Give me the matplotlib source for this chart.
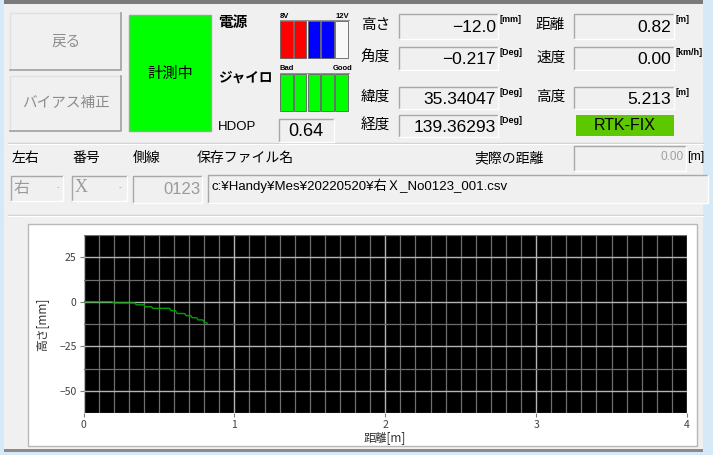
import matplotlib
matplotlib.use("Agg")
import matplotlib.pyplot as plt
from matplotlib.patches import Rectangle
from matplotlib.ticker import MultipleLocator

# ── データ ─────────────────────────────────────────────
distance_m = [0.00, 0.19, 0.20, 0.34, 0.35, 0.40, 0.41, 0.45, 0.46, 0.57, 0.58,
              0.61, 0.62, 0.67, 0.68, 0.71, 0.72, 0.75, 0.76, 0.79, 0.80, 0.82]
height_mm = [0.0, 0.0, -0.7, -0.7, -1.7, -1.7, -2.8, -2.8, -3.7, -3.7, -5.0,
             -5.0, -6.6, -6.6, -7.8, -7.8, -9.0, -9.0, -10.2, -10.2, -11.5, -12.0]

x_ticks = [0, 1, 2, 3, 4]
y_ticks = [25, 0, -25, -50]

power_bars = ["#FF0000", "#FF0000", "#0000FF", "#0000FF", "#F8F8F8"]
gyro_bars = ["#00FF00", "#00FF00", "#00FF00", "#00FF00", "#00FF00"]

left_labels = ["高さ", "角度", "緯度", "経度"]
left_values = ["\u221212.0", "\u22120.217", "35.34047", "139.36293"]
left_units = ["[mm]", "[Deg]", "[Deg]", "[Deg]"]
right_labels = ["距離", "速度", "高度"]
right_values = ["0.82", "0.00", "5.213"]
right_units = ["[m]", "[km/h]", "[m]"]

hdop = "0.64"
fix_status = "RTK-FIX"
file_path = "c:¥Handy¥Mes¥20220520¥右Ｘ_No0123_001.csv"

JP = ["Noto Sans CJK JP", "DejaVu Sans"]
NUM = ["Liberation Sans", "Noto Sans CJK JP"]
BG = "#F0F0F0"

fig = plt.figure(figsize=(7.13, 4.55), dpi=100, facecolor="#D6E9F6")
ui = fig.add_axes([0, 0, 1, 1])
ui.set_xlim(0, 713)
ui.set_ylim(455, 0)
ui.axis("off")


def rect(x0, y0, x1, y1, fc, ec="none", lw=1.0, z=1):
    ui.add_patch(Rectangle((x0, y0), x1 - x0, y1 - y0, facecolor=fc,
                           edgecolor=ec, linewidth=lw, zorder=z))


def sunken(x0, y0, x1, y1, fc=BG):
    rect(x0, y0, x1, y1, fc, z=2)
    ui.plot([x0, x0, x1], [y1, y0, y0], color="#A8A8A8", lw=1.0, zorder=3)
    ui.plot([x0, x1, x1], [y1, y1, y0], color="#FFFFFF", lw=1.0, zorder=3)


def raised(x0, y0, x1, y1):
    rect(x0, y0, x1, y1, BG, z=2)
    ui.plot([x0, x0, x1], [y1, y0, y0], color="#E0E0E0", lw=1.0, zorder=3)
    ui.plot([x0, x1, x1], [y1, y1, y0], color="#A0A0A0", lw=1.2, zorder=3)


# 背景
rect(4, 3, 703, 451, BG, z=0)
rect(4, 0, 703, 4, "#7A7A7A", z=1)
rect(4, 449, 703, 452, "#8A8A8A", z=1)
for yy in (143, 215):
    ui.plot([8, 703], [yy, yy], color="#D2D2D2", lw=1.0, zorder=1)
    ui.plot([8, 703], [yy + 1, yy + 1], color="#FFFFFF", lw=0.8, zorder=1)

# ボタン
raised(10, 13, 121, 70)
raised(10, 76, 121, 131)
ui.text(66, 42, "戻る", family=JP, fontsize=10.5, color="#8C8C8C",
        ha="center", va="center", zorder=4)
ui.text(66, 103, "バイアス補正", family=JP, fontsize=10.5, color="#8C8C8C",
        ha="center", va="center", zorder=4)

rect(129, 15, 211, 131, "#00FF00", ec="#A0A0A0", lw=1.0, z=2)
ui.text(170, 73, "計測中", family=JP, fontsize=11, color="black",
        ha="center", va="center", zorder=4)

# 電源 / ジャイロ / HDOP
ui.text(218, 22, "電源", family=JP, fontsize=10.5, fontweight="bold",
        ha="left", va="center")
ui.text(218, 78, "ジャイロ", family=JP, fontsize=9.8, fontweight="bold",
        ha="left", va="center")
ui.text(218, 127, "HDOP", family=NUM, fontsize=9.5,
        ha="left", va="center")

bar_w = 12.5
for i, c in enumerate(power_bars):
    x0 = 280 + i * 13.8
    rect(x0, 20.5, x0 + bar_w, 57.5, c, ec="#606060", lw=0.6, z=2)
for i, c in enumerate(gyro_bars):
    x0 = 280 + i * 13.8
    rect(x0, 73.5, x0 + bar_w, 111, c, ec="#606060", lw=0.6, z=2)
ui.plot([280, 349], [19.5, 19.5], color="#808080", lw=0.6, zorder=3)
ui.plot([280, 349], [72.5, 72.5], color="#808080", lw=0.6, zorder=3)
ui.text(280, 16, "8V", family=NUM, fontsize=5.5, fontweight="bold",
        ha="left", va="center")
ui.text(349, 16, "12V", family=NUM, fontsize=5.5, fontweight="bold",
        ha="right", va="center")
ui.text(280, 69, "Bad", family=NUM, fontsize=5.5, fontweight="bold",
        ha="left", va="center")
good = ui.text(333, 69, "Good", family=NUM, fontsize=5.5, fontweight="bold",
               ha="left", va="center")
clip = Rectangle((270, 60), 79, 20, transform=ui.transData, visible=False)
ui.add_patch(clip)
good.set_clip_path(clip)

sunken(279, 119, 334, 142)
ui.text(306, 131, hdop, family=NUM, fontsize=13, ha="center", va="center",
        zorder=4)

# 計測値
rows = [(14, 39), (47, 70), (87, 109), (115, 137)]
for (y0, y1), lab, val, unit in zip(rows, left_labels, left_values, left_units):
    ui.text(361, (y0 + y1) / 2 - 1, lab, family=JP, fontsize=10.5,
            ha="left", va="center")
    sunken(399, y0, 498, y1)
    ui.text(496, (y0 + y1) / 2 + 1, val, family=NUM, fontsize=12.5,
            ha="right", va="center", zorder=4)
    ui.text(500, y0 + 1, unit, family=NUM, fontsize=6.5, fontweight="bold",
            ha="left", va="top", zorder=4)
for (y0, y1), lab, val, unit in zip(rows[:3], right_labels, right_values,
                                    right_units):
    ui.text(536, (y0 + y1) / 2 - 1, lab, family=JP, fontsize=10.5,
            ha="left", va="center")
    sunken(574, y0, 674, y1)
    ui.text(671, (y0 + y1) / 2 + 1, val, family=NUM, fontsize=12.5,
            ha="right", va="center", zorder=4)
    ui.text(676, y0 + 1, unit, family=NUM, fontsize=6.5, fontweight="bold",
            ha="left", va="top", zorder=4)

rect(576, 115, 674, 136, "#5DC800", z=2)
ui.text(625, 126, fix_status, family=NUM, fontsize=11.5, ha="center",
        va="center", zorder=4)

# ファイル情報
for x, lab in [(12, "左右"), (72, "番号"), (133, "側線"),
               (197, "保存ファイル名"), (474, "実際の距離")]:
    ui.text(x, 158, lab, family=JP, fontsize=10, ha="left", va="center")
sunken(574, 146, 686, 171)
ui.text(684, 157, "0.00", family=NUM, fontsize=8.5, color="#A0A0A0",
        ha="right", va="center", zorder=4)
ui.text(687, 157, "[m]", family=NUM, fontsize=9, ha="left", va="center")

sunken(11, 176, 63, 201)
sunken(72, 176, 127, 201)
ui.text(14, 188, "右", family=JP, fontsize=11.5, color="#9A9A9A",
        ha="left", va="center", zorder=4)
ui.text(75, 188, "X", family=["Liberation Serif"], fontsize=13,
        color="#9A9A9A", ha="left", va="center", zorder=4)
for xa in (58, 120):
    ui.text(xa, 188, "-", family=NUM, fontsize=6, color="#9A9A9A",
            ha="center", va="center", zorder=4)
sunken(133, 176, 202, 203)
ui.text(200, 190, "0123", family=NUM, fontsize=12, color="#9A9A9A",
        ha="right", va="center", zorder=4)
sunken(208, 175, 708, 203)
ui.text(211, 186, file_path, family=NUM, fontsize=9.5, ha="left",
        va="center", zorder=4)

# グラフパネル
rect(28, 224, 697, 446, "white", ec="#B8B8B8", lw=1.0, z=1)

ax = fig.add_axes([83.5 / 713, (455 - 413) / 455, (687 - 83.5) / 713,
                   (413 - 235) / 455])
ax.set_facecolor("black")
ax.set_xlim(0, 4)
ax.set_ylim(-62.5, 37.5)
ax.xaxis.set_minor_locator(MultipleLocator(0.1))
ax.yaxis.set_minor_locator(MultipleLocator(12.5))
ax.xaxis.set_major_locator(MultipleLocator(0.5))
ax.grid(True, which="minor", color="#6E6E6E", lw=0.9)
ax.grid(True, which="major", color="#B4B4B4", lw=1.0)
ax.set_axisbelow(True)
ax.plot(distance_m, height_mm, color="#00A000", lw=1.0, zorder=3)

ax.set_xticks(x_ticks)
ax.set_yticks(y_ticks)
ax.tick_params(which="minor", length=0)
ax.tick_params(which="major", length=3, width=0.8, color="#808080",
               labelsize=7.5, labelcolor="#404040", pad=2)
for lab in ax.get_xticklabels() + ax.get_yticklabels():
    lab.set_family(JP)
for sp in ax.spines.values():
    sp.set_visible(False)
ax.set_xlabel("距離[m]", family=JP, fontsize=8.5, color="#303030", labelpad=1)
ax.set_ylabel("高さ[mm]", family=JP, fontsize=8.5, color="#303030",
              labelpad=8)

fig.savefig("out.png", dpi=100, facecolor=fig.get_facecolor())
